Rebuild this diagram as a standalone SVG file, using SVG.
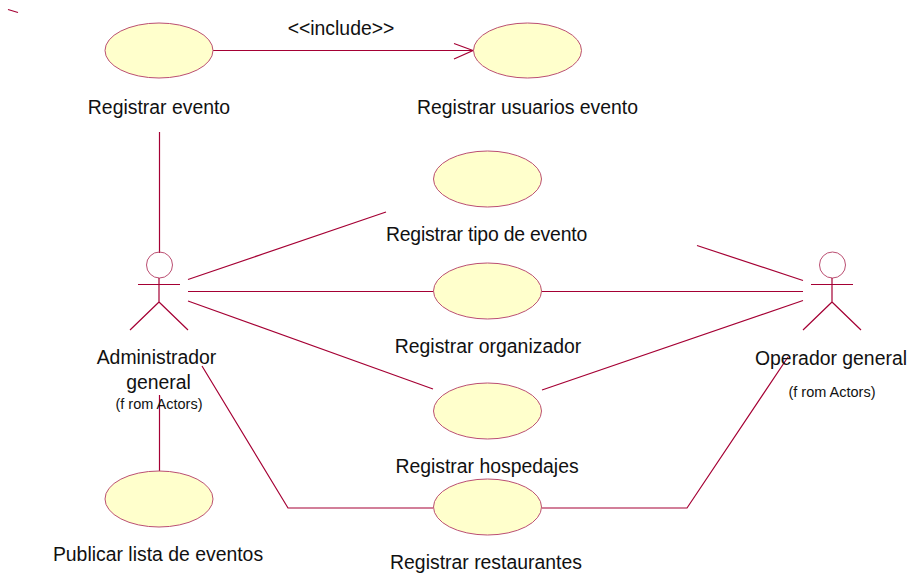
<svg xmlns="http://www.w3.org/2000/svg" width="911" height="574" viewBox="0 0 911 574">
<style>
.uc{fill:#ffffcc;stroke:#bb4f72;stroke-width:1}
.ln{fill:none;stroke:#a50034;stroke-width:1.2}
.hd{fill:none;stroke:#bb4f72;stroke-width:1}
text{font-family:"Liberation Sans",Arial,sans-serif;font-size:19.4px;fill:#111;text-anchor:middle}
.sm{font-size:14.5px}
</style>
<rect width="911" height="574" fill="#fff"/>
<g id="connectors">
<path class="ln" d="M8 9.500L18 12.500"/>
<path class="ln" d="M213 50.500H473M454 43.500L473 50.500L454 59"/>
<path class="ln" d="M159.500 132V253"/>
<path class="ln" d="M188 279.500L386 212"/>
<path class="ln" d="M188 291.500H433"/>
<path class="ln" d="M188 301L433 389"/>
<path class="ln" d="M202 366L288 508H433"/>
<path class="ln" d="M159.500 395V471"/>
<path class="ln" d="M697 245.500L803 280.500"/>
<path class="ln" d="M542 291.500H803"/>
<path class="ln" d="M542 390L803 300.500"/>
<path class="ln" d="M542 508H687L788 357"/>
</g>
<g id="uc-registrar-evento"><ellipse class="uc" cx="159" cy="50.500" rx="54" ry="27.500"/><text x="159" y="114">Registrar evento</text></g>
<g id="uc-registrar-usuarios"><ellipse class="uc" cx="527.500" cy="50.500" rx="54" ry="27.500"/><text x="527.500" y="114">Registrar usuarios evento</text></g>
<g id="label-include"><text x="341" y="35">&lt;&lt;include&gt;&gt;</text></g>
<g id="uc-registrar-tipo"><ellipse class="uc" cx="487.500" cy="179" rx="54" ry="28"/><text x="486.500" y="241" style="letter-spacing:-.2px">Registrar tipo de evento</text></g>
<g id="uc-registrar-organizador"><ellipse class="uc" cx="487.500" cy="291" rx="54" ry="28"/><text x="488" y="353">Registrar organizador</text></g>
<g id="uc-registrar-hospedajes"><ellipse class="uc" cx="487.500" cy="411" rx="54" ry="28"/><text x="487" y="473">Registrar hospedajes</text></g>
<g id="uc-registrar-restaurantes"><ellipse class="uc" cx="487.500" cy="507" rx="54" ry="28"/><text x="486" y="569">Registrar restaurantes</text></g>
<g id="uc-publicar-lista"><ellipse class="uc" cx="159" cy="499" rx="54" ry="28"/><text x="158" y="561">Publicar lista de eventos</text></g>
<g id="actor-administrador">
<circle class="hd" cx="159.500" cy="265" r="13"/>
<path class="ln" d="M138 284.500H180M159 278V302M159 302L130 330M159 302L188 330"/>
<text x="156.500" y="364">Administrador</text>
<text x="158.500" y="389">general</text>
<text class="sm" x="159" y="409">(f rom Actors)</text>
</g>
<g id="actor-operador">
<circle class="hd" cx="832.500" cy="265" r="13"/>
<path class="ln" d="M811 284.500H853M832 278V302M832 302L803 330M832 302L861 330"/>
<text x="831" y="364.500">Operador general</text>
<text class="sm" x="832" y="396.500">(f rom Actors)</text>
</g>
</svg>
